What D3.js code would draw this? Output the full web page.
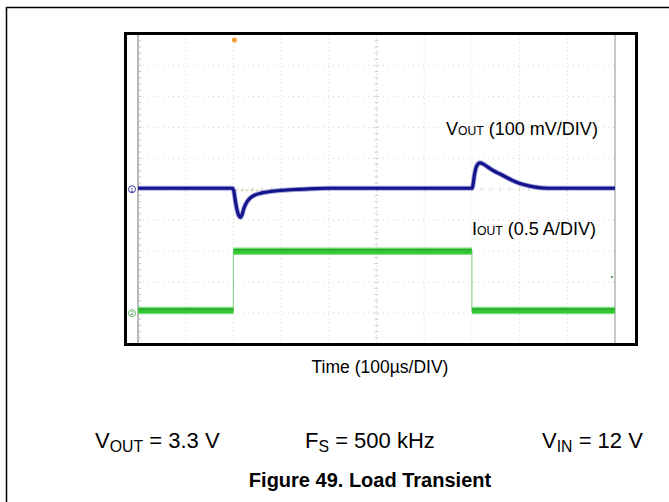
<!DOCTYPE html>
<html><head><meta charset="utf-8">
<script src="https://cdn.jsdelivr.net/npm/d3@7"></script>
<style>body{margin:0;background:#fff}svg{display:block}text{font-family:"Liberation Sans",Arial,sans-serif}</style>
</head><body>
<script>
// ---- data ----
const gridDivX = [0,1,2,3,4,5,6,7,8,9,10];
const gridDivY = [-5,-4,-3,-2,-1,0,1,2,3,4,5];
// Channel 1: VOUT (AC), mV, time in µs (100 µs/DIV)
const voutTime = [0,198,201,204,208,212,215,218,222,228,235,245,260,280,300,330,360,400,700,702,705,710,717,724,732,744,759,774,790,801,822,836,864,900,1000];
const voutMv   = [0,0,-10,-40,-72,-90,-94,-86,-65,-45,-32,-22,-15,-10,-7,-4,-2,0,0,8,40,72,82,78,70,58,46,34,22,15,7,3,0,0,0];
// Channel 2: IOUT, A
const ioutTime = [0,200,200,700,700,1000];
const ioutA    = [0.04,0.04,1.0,1.0,0.04,0.04];
const labels = {vout:"(100 mV/DIV)", iout:"(0.5 A/DIV)", time:"Time (100µs/DIV)", title:"Figure 49. Load Transient"};

const W=669,H=502;
const svg=d3.select("body").append("svg").attr("width",W).attr("height",H);

// page frame lines
svg.append("line").attr("x1",6).attr("x2",W).attr("y1",7.5).attr("y2",7.5).attr("stroke","#000").attr("stroke-width",1.5);
svg.append("line").attr("x1",6.5).attr("x2",6.5).attr("y1",7).attr("y2",H).attr("stroke","#000").attr("stroke-width",1.5);

const gx0=138,gx1=615,gy0=34.5,gy1=344;
const x=d3.scaleLinear().domain([0,1000]).range([gx0,gx1]);
const div=d3.scaleLinear().domain([-5,5]).range([gy1,gy0]);
const yV=d3.scaleLinear().domain([-500,500]).range([gy1,gy0]);
const yI=d3.scaleLinear().domain([-0.5,4.5]).range([gy1,gy0]);
const xd=d3.scaleLinear().domain([0,10]).range([gx0,gx1]);

const g=svg.append("g");
// grid
g.selectAll(".vg").data(gridDivX).join("line")
 .attr("x1",d=>xd(d)).attr("x2",d=>xd(d)).attr("y1",gy0).attr("y2",gy1)
 .attr("stroke","#d0d0d0").attr("stroke-width",1).attr("stroke-dasharray","1,3");
g.selectAll(".hg").data(gridDivY).join("line")
 .attr("y1",d=>div(d)).attr("y2",d=>div(d)).attr("x1",gx0).attr("x2",gx1)
 .attr("stroke","#d6d6d6").attr("stroke-width",1).attr("stroke-dasharray","1,4");
// minor ticks on center axes
const minorY=d3.range(-5,5.01,0.2), minorX=d3.range(0,10.01,0.2);
g.selectAll(".mty").data(minorY).join("line")
 .attr("x1",xd(5)-2).attr("x2",xd(5)+2).attr("y1",d=>div(d)).attr("y2",d=>div(d)).attr("stroke","#d0d0d0");
g.selectAll(".mtx").data(minorX).join("line")
 .attr("y1",div(0)-2).attr("y2",div(0)+2).attr("x1",d=>xd(d)).attr("x2",d=>xd(d)).attr("stroke","#dcdcdc");
// edge lines
g.append("line").attr("x1",gx0).attr("x2",gx0).attr("y1",gy0).attr("y2",gy1).attr("stroke","#b8b8b8").attr("stroke-width",2);
g.append("line").attr("x1",gx1).attr("x2",gx1).attr("y1",gy0).attr("y2",gy1).attr("stroke","#c8c8c8").attr("stroke-width",2);
g.selectAll(".mtl").data(minorY).join("line")
 .attr("x1",gx0).attr("x2",gx0+3).attr("y1",d=>div(d)).attr("y2",d=>div(d)).attr("stroke","#c0c0c0");
// trigger level dashes near baseline
g.append("line").attr("x1",x(205)).attr("x2",x(260)).attr("y1",yV(0)+1).attr("y2",yV(0)+1)
 .attr("stroke","#c8b070").attr("stroke-dasharray","2,3");

// IOUT trace
const ipts=ioutTime.map((t,i)=>[t,ioutA[i]]);
const lineI=d3.line().x(d=>x(d[0])).y(d=>yI(d[1]));
g.append("path").attr("d",lineI(ipts)).attr("fill","none").attr("stroke","#8fcf8f").attr("stroke-width",1.2);
const flats=[];
for(let i=0;i<ipts.length-1;i++) if(ipts[i][1]===ipts[i+1][1]) flats.push([ipts[i],ipts[i+1]]);
g.selectAll(".flat0").data(flats).join("path").attr("d",d=>lineI(d)).attr("fill","none")
 .attr("stroke","#7ee07e").attr("stroke-width",7.5);
g.selectAll(".flat").data(flats).join("path").attr("d",d=>lineI(d)).attr("fill","none")
 .attr("stroke","#33c633").attr("stroke-width",5);
g.selectAll(".flat2").data(flats).join("path").attr("d",d=>lineI(d)).attr("fill","none")
 .attr("stroke","#1f7a1f").attr("stroke-width",1).attr("opacity",0.5).attr("transform","translate(0,-1.5)");

// VOUT trace
const vpts=voutTime.map((t,i)=>[t,voutMv[i]]);
const lineV=d3.line().x(d=>x(d[0])).y(d=>yV(d[1])-1).curve(d3.curveMonotoneX);
g.append("path").attr("d",lineV(vpts)).attr("fill","none").attr("stroke","#5c5cc0").attr("stroke-width",5).attr("opacity",0.55);
g.append("path").attr("d",lineV(vpts)).attr("fill","none").attr("stroke","#14148c").attr("stroke-width",3.2);

// channel markers
const m1=g.append("g").attr("transform",`translate(132,${yV(0)})`);
m1.append("circle").attr("r",3.5).attr("fill","#fff").attr("stroke","#3a3aa0");
m1.append("text").attr("y",2.3).attr("text-anchor","middle").attr("font-size",6).attr("fill","#1a1a8a").text("1");
const m2=g.append("g").attr("transform",`translate(132,${yI(0)})`);
m2.append("circle").attr("r",3.5).attr("fill","#fff").attr("stroke","#6ab86a");
m2.append("text").attr("y",2.3).attr("text-anchor","middle").attr("font-size",6).attr("fill","#3a8a3a").text("2");
// trigger marker
g.append("circle").attr("cx",x(200)+1).attr("cy",40).attr("r",2.5).attr("fill","#f0a030");
g.append("circle").attr("cx",612).attr("cy",277).attr("r",1).attr("fill","#2a7a2a");

// frame
svg.append("rect").attr("x",125.5).attr("y",33.5).attr("width",511).attr("height",311)
 .attr("fill","none").attr("stroke","#000").attr("stroke-width",3);

// in-plot labels
function sublabel(xp,yp,main,sub,rest,size){
  const t=svg.append("text").attr("x",xp).attr("y",yp).attr("font-size",size).attr("fill","#000");
  t.append("tspan").text(main);
  t.append("tspan").attr("font-size",size*0.68).text(sub);
  t.append("tspan").text(" "+rest);
}
sublabel(446,135,"V","OUT",labels.vout,18);
sublabel(472,235,"I","OUT",labels.iout,18);

svg.append("text").attr("x",380).attr("y",373).attr("text-anchor","middle").attr("font-size",17.5).text(labels.time);

function eqlabel(xp,yp,main,sub,rest,size){
  const t=svg.append("text").attr("x",xp).attr("y",yp).attr("font-size",size).attr("fill","#000");
  t.append("tspan").text(main);
  t.append("tspan").attr("font-size",size*0.72).attr("dy",4).text(sub);
  t.append("tspan").attr("dy",-4).text(" "+rest);
}
eqlabel(95,448,"V","OUT","= 3.3 V",22);
eqlabel(305,448,"F","S","= 500 kHz",22);
eqlabel(542,448,"V","IN","= 12 V",22);

svg.append("text").attr("x",370).attr("y",487).attr("text-anchor","middle").attr("font-size",20).attr("font-weight","bold").text(labels.title);
</script>
</body></html>
